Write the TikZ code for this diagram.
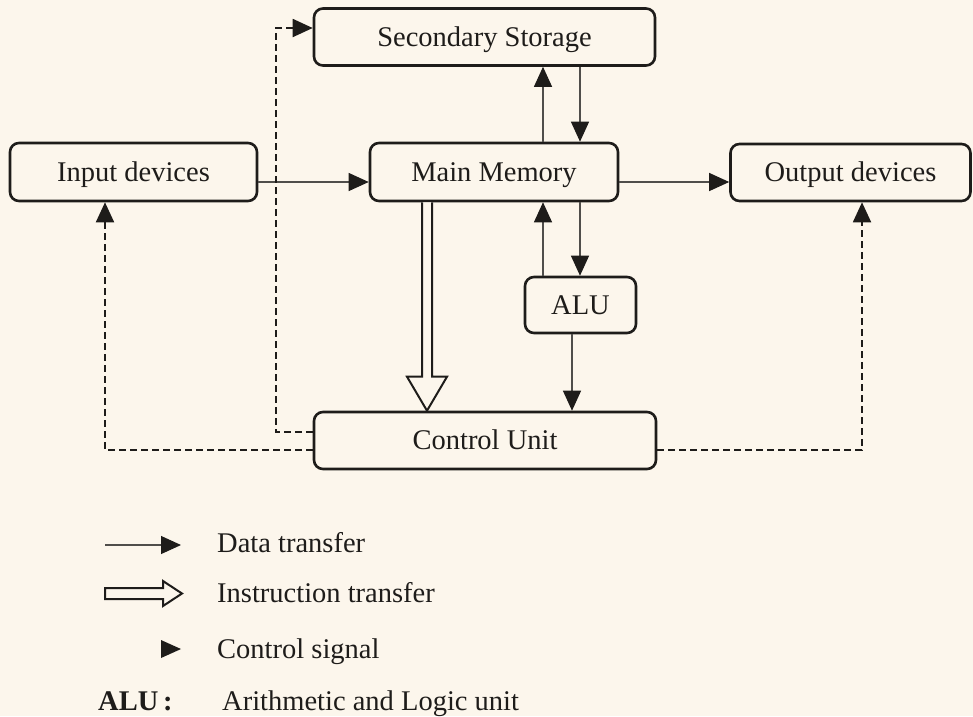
\documentclass[tikz,border=0pt]{standalone}
\usepackage{fontspec}
\setmainfont{Liberation Serif}
\usetikzlibrary{arrows.meta,calc}
\definecolor{paper}{RGB}{252,246,236}
\definecolor{ink}{RGB}{30,28,26}
\definecolor{thin}{RGB}{80,78,75}
\tikzset{
  box/.style={draw=ink, line width=2.6pt, rounded corners=9pt, fill=paper,
    inner sep=0pt, text height=18.9pt, text depth=0pt,
    font=\fontsize{28.5}{34}\selectfont, text=ink},
  data/.style={draw=thin, line width=1.1pt, -{Triangle[length=20pt,width=18pt,color=ink,fill=ink]}},
  ctrl/.style={draw=ink, line width=1.9pt, dash pattern=on 7pt off 4pt,
    -{Triangle[length=20pt,width=18pt]}},
  instr/.style={draw=ink, line width=2pt, fill=paper, line join=miter},
  legtext/.style={anchor=base west, inner sep=0pt, text=ink, font=\fontsize{28.5}{34}\selectfont}
}
\begin{document}
\begin{tikzpicture}[x=1pt,y=-1pt]
\fill[paper] (0,0) rectangle (973,716);
\useasboundingbox (0,0) rectangle (973,716);

% boxes
\node[box, minimum width=341pt, minimum height=57pt] (ss) at (484.5,37) {Secondary Storage};
\node[box, minimum width=247pt, minimum height=58pt] (in) at (133.5,172) {Input devices};
\node[box, minimum width=248pt, minimum height=58pt] (mm) at (494,172) {Main Memory};
\node[box, minimum width=240pt, minimum height=57pt] (out) at (850.5,172.5) {Output devices};
\node[box, minimum width=111pt, minimum height=56pt] (alu) at (580.5,305) {ALU};
\node[box, minimum width=342pt, minimum height=57pt] (cu) at (485,440.5) {Control Unit};

% helper coordinates
\coordinate (xa) at (543,0);
\coordinate (xb) at (580,0);
\coordinate (xc) at (572,0);
\coordinate (ix) at (427,0);
\coordinate (ya) at (0,182);
\coordinate (d1) at (0,432);
\coordinate (d2) at (276,28);
\coordinate (d3) at (0,450);
\coordinate (d4) at (105,0);
\coordinate (d5) at (862,0);

% data transfer
\draw[data] (in.east |- ya) -- (mm.west |- ya);
\draw[data] (mm.east |- ya) -- (out.west |- ya);
\draw[data] (mm.north -| xa) -- (ss.south -| xa);
\draw[data] (ss.south -| xb) -- (mm.north -| xb);
\draw[data] (alu.north -| xa) -- (mm.south -| xa);
\draw[data] (mm.south -| xb) -- (alu.north -| xb);
\draw[data] (alu.south -| xc) -- (cu.north -| xc);

% instruction transfer
\draw[instr] ($(mm.south -| ix)+(-5,0)$) -- ($(cu.north -| ix)+(-5,-34)$)
  -- ($(cu.north -| ix)+(-20,-34)$) -- (cu.north -| ix)
  -- ($(cu.north -| ix)+(20,-34)$) -- ($(cu.north -| ix)+(5,-34)$)
  -- ($(mm.south -| ix)+(5,0)$);

% control signals
\draw[ctrl] (cu.west |- d1) -| (d2) -- (ss.west |- d2);
\draw[ctrl] (cu.west |- d3) -| (in.south -| d4);
\draw[ctrl] (cu.east |- d3) -| (out.south -| d5);

% legend
\coordinate (l1a) at (105,545);
\coordinate (l1b) at (181,545);
\draw[data] (l1a) -- (l1b);
\node[legtext] (t1) at (217,552) {Data transfer};

\draw[instr] (105,588) -- (163,588) -- (163,581) -- (182,593.5) -- (163,606)
  -- (163,599) -- (105,599) -- cycle;
\node[legtext] (t2) at (217,602) {Instruction transfer};

\fill[ink] (161,640) -- (181,649) -- (161,658) -- cycle;
\node[legtext] (t3) at (217,658) {Control signal};

\node[legtext, font=\fontsize{28.5}{34}\selectfont\bfseries] (t4) at (98,710) {ALU\,:};
\node[legtext] (t5) at (222,710) {Arithmetic and Logic unit};
\end{tikzpicture}
\end{document}
